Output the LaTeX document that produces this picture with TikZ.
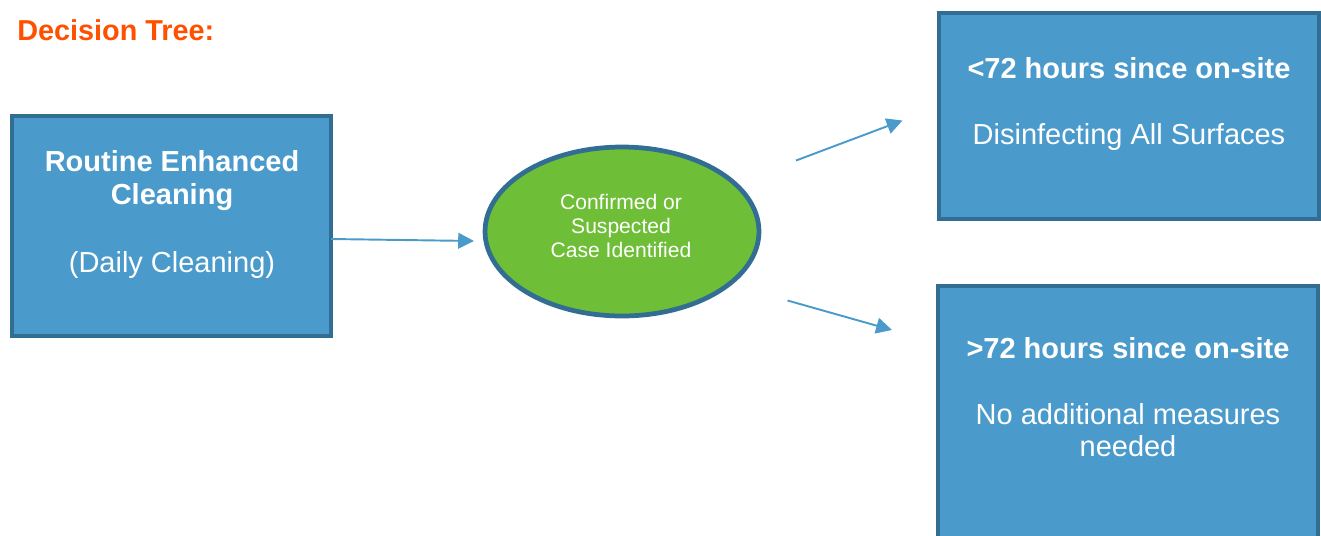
\documentclass[tikz,border=0pt]{standalone}
\usepackage{fontspec}
\setmainfont{Liberation Sans}
\usepackage{xcolor}
\usetikzlibrary{shapes,arrows.meta,positioning}

\definecolor{boxfill}{RGB}{74,155,203}
\definecolor{boxline}{RGB}{50,110,148}
\definecolor{casefill}{RGB}{110,190,55}
\definecolor{titleorange}{RGB}{255,80,0}

\tikzset{
    stepbox/.style={rectangle, draw=boxline, line width=2.7pt, fill=boxfill, inner sep=0pt},
    casenode/.style={ellipse, draw=boxline, line width=2.7pt, fill=casefill, inner sep=0pt},
    headtext/.style={text=white, font=\fontsize{16.5}{18.7}\selectfont\bfseries, align=center, inner sep=0pt, anchor=base},
    subtext/.style={text=white, font=\fontsize{16.5}{18.2}\selectfont, align=center, inner sep=0pt, anchor=base},
    flow/.style={draw=boxfill, line width=1.1pt, -{Triangle[length=9pt,width=9pt]}}
}

\begin{document}
\begin{tikzpicture}[x=0.02cm,y=-0.02cm]
    \useasboundingbox (0,0) rectangle (1321,535);
    \clip (0,0) rectangle (1321,535);

    % Title
    \node[anchor=base west, inner sep=0pt, text=titleorange,
          font=\fontsize{16.4}{18}\selectfont\bfseries] (title) at (17,40) {Decision Tree:};

    % Routine cleaning box
    \node[stepbox, minimum width=6.38cm, minimum height=4.4cm] (routine) at (171.5,226) {};
    \node[headtext] (routinehead) at (172,204) {Routine Enhanced\\Cleaning};
    \node[subtext] (routinesub) at (172,272) {(Daily Cleaning)};

    % Case identified
    \node[casenode, minimum width=5.48cm, minimum height=3.38cm] (case) at (622,231.5) {};
    \node[text=white, font=\fontsize{12}{13.6}\selectfont, align=center, inner sep=0pt, anchor=base]
        (casetext) at (621,257) {Confirmed or\\Suspected\\Case Identified};

    % Less than 72 hours
    \node[stepbox, minimum width=7.6cm, minimum height=4.12cm] (under) at (1129,116) {};
    \node[headtext] (underhead) at (1129,78) {<72 hours since on-site};
    \node[subtext] (undersub) at (1129,144) {Disinfecting All Surfaces};

    % More than 72 hours
    \node[stepbox, minimum width=7.6cm, minimum height=5.88cm] (over) at (1128,433) {};
    \node[headtext] (overhead) at (1128,358) {>72 hours since on-site};
    \node[subtext] (oversub) at (1128,456) {No additional measures\\needed};

    % Arrows
    \coordinate (a1start) at (331,239);
    \coordinate (a1end) at (474,241);
    \coordinate (a2start) at (796,160.5);
    \coordinate (a2end) at (902.5,120.5);
    \coordinate (a3start) at (787.5,300.5);
    \coordinate (a3end) at (892,330);
    \draw[flow] (a1start) -- (a1end);
    \draw[flow] (a2start) -- (a2end);
    \draw[flow] (a3start) -- (a3end);
\end{tikzpicture}
\end{document}
